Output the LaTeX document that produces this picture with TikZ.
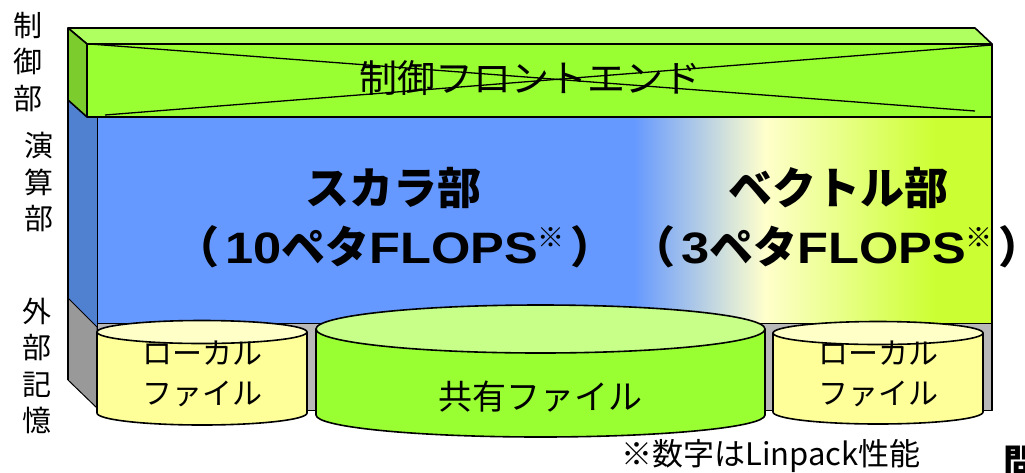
\documentclass[tikz,border=0pt]{standalone}
\usepackage{fontspec}
\setmainfont{Noto Sans CJK JP}
\newfontfamily\latb[FakeStretch=1.15]{Liberation Sans}
\definecolor{ctop}{HTML}{B0FF60}
\definecolor{cfront}{HTML}{99FF33}
\definecolor{cside}{HTML}{7CCC2E}
\definecolor{cbside}{HTML}{5080D0}
\definecolor{cblue}{HTML}{6699FF}
\definecolor{cpale}{HTML}{FFFFCC}
\definecolor{cyg}{HTML}{CCFF33}
\definecolor{gside}{HTML}{999999}
\definecolor{gfront}{HTML}{B8B8B8}
\definecolor{lbody}{HTML}{FFFF99}
\definecolor{ltop}{HTML}{FFFFC8}
\definecolor{sbody}{HTML}{99FF33}
\definecolor{stop}{HTML}{C8FF88}
\pgfdeclarehorizontalshading{compshade}{100bp}{color(0bp)=(cblue); color(55bp)=(cblue); color(62.3bp)=(cpale); color(71.8bp)=(cyg); color(100bp)=(cyg)}
\newcommand{\lat}[1]{{\latb\bfseries #1}}
\newcommand{\kome}{\raisebox{0.38em}{\fontsize{27}{27}\selectfont ※}}
\begin{document}
\begin{tikzpicture}[x=1pt,y=-1pt,line join=round,
  edge/.style={draw=black,line width=1.6pt},
  thinedge/.style={draw=black,line width=1pt},
  lbl/.style={font=\fontsize{29}{36.5}\selectfont,align=center,inner sep=0pt},
  big/.style={font=\bfseries\fontsize{44}{50}\selectfont,inner sep=0pt},
  cyltext/.style={font=\fontsize{30}{40}\selectfont,align=center,inner sep=0pt}]
\useasboundingbox (0,0) rectangle (1025,472);
% compute block
\fill[cbside] (68,100) -- (97,100) -- (97,327) -- (68,298) -- cycle;
\shade[shading=compshade] (97,117) rectangle (992,323);
% storage block
\filldraw[fill=gside,thinedge] (68,298) -- (97,327) -- (97,408) -- (68,380) -- cycle;
\filldraw[fill=gfront,thinedge] (97,323) rectangle (992,410);
\draw[thinedge] (97,117) -- (97,327);
\draw[edge] (992,117) -- (992,410);
\draw[edge] (68,100) -- (68,380);
% control box
\filldraw[fill=ctop,edge] (68,28) -- (975,28) -- (992,44) -- (87,44) -- cycle;
\filldraw[fill=cside,edge] (68,28) -- (87,44) -- (87,117) -- (68,100) -- cycle;
\filldraw[fill=cfront,edge] (87,44) rectangle (992,117);
\node[font=\fontsize{38}{38}\selectfont,inner sep=0pt] (ctl) at (530,78) {制御フロントエンド};
\coordinate (xa1) at (90,44);
\coordinate (xa2) at (975,111);
\coordinate (xb1) at (105,115);
\coordinate (xb2) at (992,45);
\draw[line width=1.3pt] (xa1) -- (xa2);
\draw[line width=1.3pt] (xb1) -- (xb2);
% cylinders
\filldraw[fill=lbody,edge] (97,332) -- (97,413) arc[start angle=180,end angle=0,x radius=105,y radius=12] -- (307,332) -- cycle;
\filldraw[fill=ltop,edge] (202,332) ellipse[x radius=105,y radius=11.5];
\filldraw[fill=sbody,edge] (316,329) -- (316,415) arc[start angle=180,end angle=0,x radius=224.5,y radius=22] -- (765,329) -- cycle;
\filldraw[fill=stop,edge] (540.5,329) ellipse[x radius=224.5,y radius=24];
\filldraw[fill=lbody,edge] (773,333) -- (773,412) arc[start angle=180,end angle=0,x radius=105,y radius=12] -- (983,333) -- cycle;
\filldraw[fill=ltop,edge] (878,333) ellipse[x radius=105,y radius=11.5];
\node[cyltext] (loc1) at (202,374) {ローカル\\ファイル};
\node[cyltext] (loc2) at (878,374) {ローカル\\ファイル};
\node[cyltext,font=\fontsize{34}{40}\selectfont] (shared) at (540,397) {共有ファイル};
% compute texts
\node[big] (sc1) at (393,188) {スカラ部};
\node[big] (sc2) at (395,247) {（\hspace{6pt}\lat{10}ペタ\lat{FLOPS}\kome\hspace{6pt}）};
\node[big] (vc1) at (838,188) {ベクトル部};
\node[big] (vc2) at (837,247) {（\hspace{6pt}\lat{3}ペタ\lat{FLOPS}\kome\hspace{6pt}）};
% side labels
\node[lbl] (l1) at (28,62) {制\\御\\部};
\node[lbl] (l2) at (39,182) {演\\算\\部};
\node[lbl] (l3) at (37,366) {外\\部\\記\\憶};
\node[font=\fontsize{31}{31}\selectfont,inner sep=0pt] (note) at (771,456) {※数字はLinpack性能};
\node[font=\bfseries\fontsize{36}{36}\selectfont,inner sep=0pt,anchor=west] (cut) at (1003,462) {問};
\end{tikzpicture}
\end{document}
